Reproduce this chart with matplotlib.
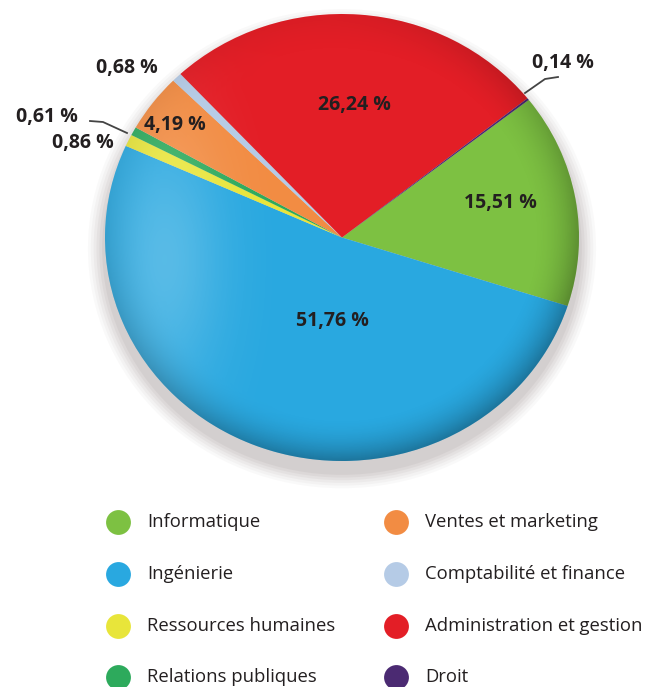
import numpy as np
import matplotlib
matplotlib.use("Agg")
import matplotlib.pyplot as plt
from matplotlib.patches import Ellipse, Circle

categories = ["Informatique", "Ingénierie", "Ressources humaines", "Relations publiques",
              "Ventes et marketing", "Comptabilité et finance", "Administration et gestion", "Droit"]
values = [15.51, 51.76, 0.86, 0.61, 4.19, 0.68, 26.24, 0.14]
colors = ["#7dc142", "#29a8e0", "#e8e53a", "#2daa5c", "#f28c43", "#b5cbe6", "#e31e26", "#4b2a72"]

W, H = 656, 687
fig = plt.figure(figsize=(W / 100, H / 100), dpi=100)
fig.patch.set_facecolor("white")

# pie axes (slightly elliptical, like the reference)
px0, px1, py0, py1 = 105, 579, 14, 461
axp = fig.add_axes([px0 / W, 1 - py1 / H, (px1 - px0) / W, (py1 - py0) / H])

# soft shadow under the pie
for i, a in enumerate(np.linspace(0.05, 0.12, 6)):
    s = 1.0 + 0.012 * (6 - i)
    axp.add_patch(Ellipse((0.0, -0.05), 2 * s, 2 * s, color="#9a9090", alpha=a,
                          lw=0, zorder=0, clip_on=False))

wedges, _ = axp.pie(values, colors=colors, startangle=38, counterclock=False,
                    radius=1.0, center=(0, 0), frame=False,
                    wedgeprops=dict(linewidth=0))
for w in wedges:
    w.set_zorder(1)
axp.set_aspect("auto")
axp.set_xlim(-1, 1)
axp.set_ylim(-1, 1)
axp.axis("off")

# sphere-like shading
n = 400
yy, xx = np.mgrid[1:-1:n * 1j, -1:1:n * 1j]
r = np.sqrt(xx ** 2 + yy ** 2)
weight = 0.15 + 0.85 * np.clip((0.6 * xx - yy + 1.0) / 2.0, 0, 1)
edge = np.clip((r - 0.8) / 0.2, 0, 1) ** 2 * 0.30 * weight
hl = np.exp(-(((xx + 0.75) / 0.25) ** 2 + ((yy + 0.1) / 0.6) ** 2)) * 0.22
alpha = edge + hl
shade = np.zeros((n, n, 4))
shade[..., :3] = (hl / np.maximum(alpha, 1e-6))[..., None]
shade[..., 3] = np.clip(alpha, 0, 1)
im = axp.imshow(shade, extent=(-1, 1, -1, 1), zorder=2, aspect="auto")
clip = Circle((0, 0), 1.0, transform=axp.transData)
im.set_clip_path(clip)
axp.set_xlim(-1, 1)
axp.set_ylim(-1, 1)

# overlay axes in pixel coordinates for labels and legend
ax = fig.add_axes([0, 0, 1, 1])
ax.set_xlim(0, W)
ax.set_ylim(H, 0)
ax.axis("off")
ax.patch.set_alpha(0)

def fmt(v):
    return f"{v:.2f}".replace(".", ",") + " %"

label_pos = [(500, 203), (332, 321), (83, 143), (47, 117), (175, 125), (127, 68), (354, 105), (563, 63)]
for v, (x, y) in zip(values, label_pos):
    ax.text(x, y, fmt(v), ha="center", va="center", fontsize=14, fontweight="bold",
            family="Open Sans", color="#231f20")

# leader lines
ax.plot([90, 103, 127], [121, 122, 133], color="#444444", lw=1.3)
ax.plot([525, 545, 558], [93, 79, 77], color="#444444", lw=1.3)

# legend
col_x = [118, 396]
row_y = [522, 574, 626, 677]
for i, (cat, c) in enumerate(zip(categories, colors)):
    cx = col_x[i // 4]
    cy = row_y[i % 4]
    ax.scatter([cx], [cy], s=320, color=c, lw=0)
    ax.text(cx + 29, cy, cat, ha="left", va="center", fontsize=13.3,
            family="Open Sans", color="#231f20")

fig.savefig("out.png", dpi=100, facecolor="white")
